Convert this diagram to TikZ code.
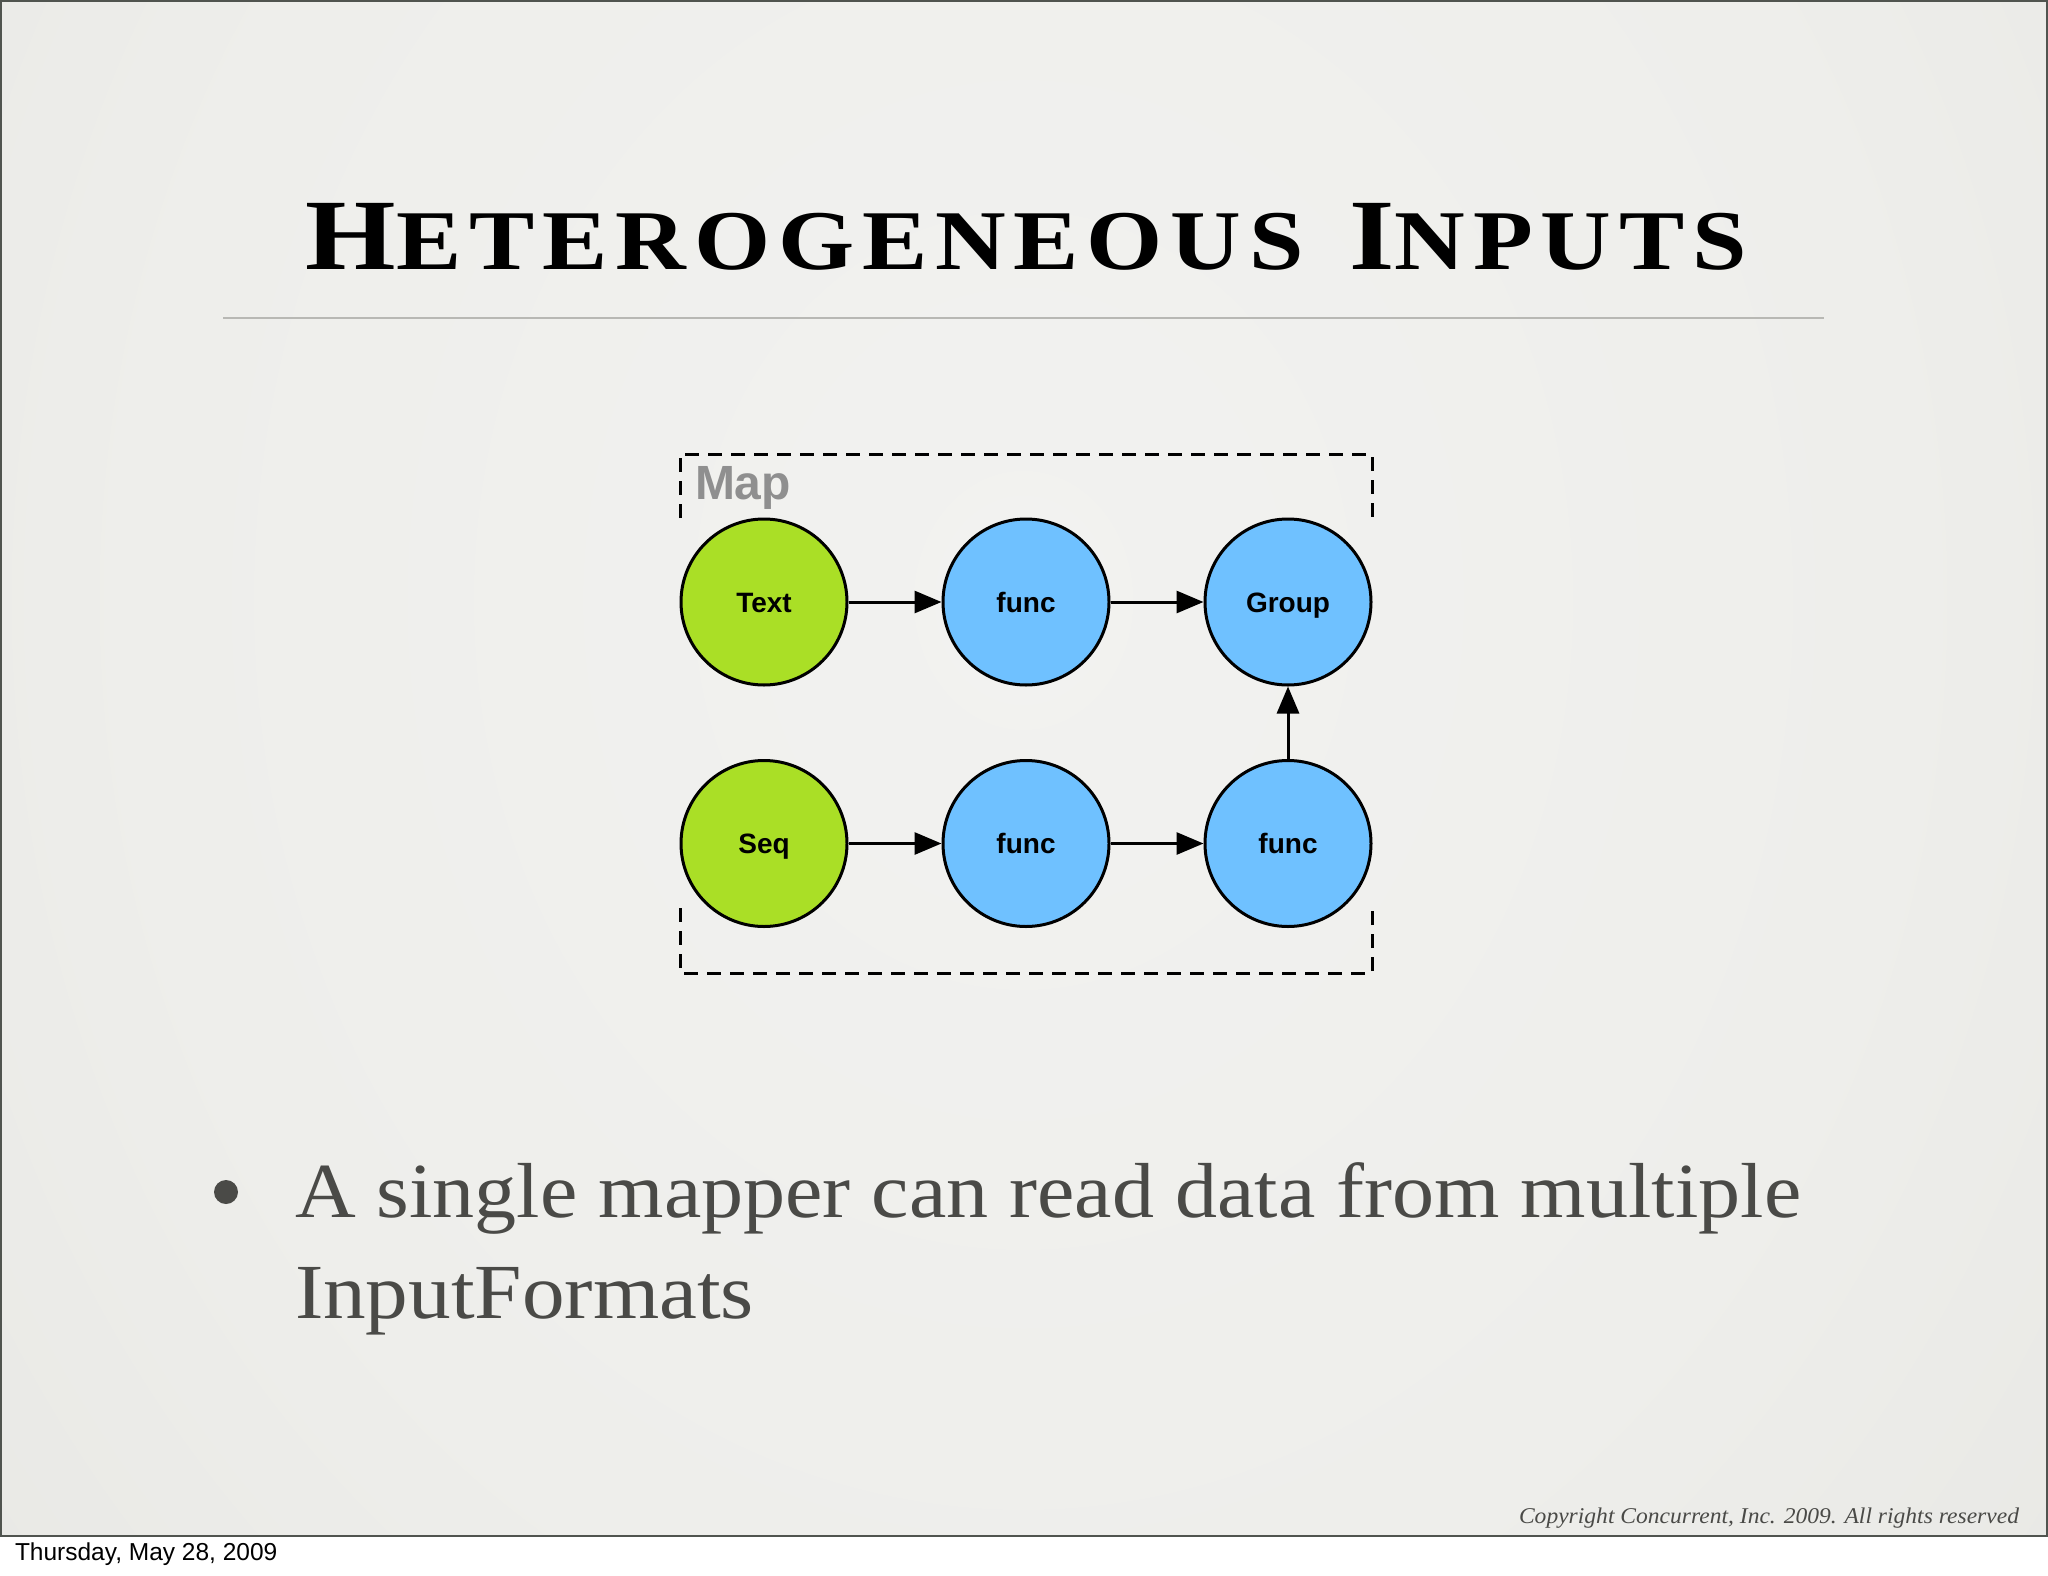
\documentclass[tikz,border=0pt]{standalone}
\usepackage{fontspec}
\usepackage{graphicx}
\setmainfont{Liberation Serif}
\setsansfont{Liberation Sans}
\usetikzlibrary{arrows.meta}
\definecolor{bgA}{HTML}{F2F2F0}
\definecolor{bgB}{HTML}{EEEEEB}
\definecolor{bgC}{HTML}{E4E4E0}
\definecolor{bgD}{HTML}{D5D6D0}
\definecolor{bgE}{HTML}{C6C8C0}
\definecolor{bgF}{HTML}{B8BAB1}
\definecolor{framegray}{HTML}{50544F}
\definecolor{rulegray}{HTML}{B8B8B4}
\definecolor{textgray}{HTML}{4A4A47}
\definecolor{mapgray}{HTML}{8F8F8F}
\definecolor{nodegreen}{HTML}{AADF26}
\definecolor{nodeblue}{HTML}{6FC1FF}
\pgfdeclareradialshading{slidebg}{\pgfpoint{0bp}{0bp}}{color(0bp)=(bgA); color(20bp)=(bgB); color(40bp)=(bgC); color(60bp)=(bgD); color(80bp)=(bgE); color(100bp)=(bgF)}
\newcommand{\ttlcap}[1]{{\fontsize{101}{101}\selectfont #1}}
\newcommand{\ttlsc}[1]{{\fontsize{85}{85}\selectfont #1}}
\begin{document}
\begin{tikzpicture}[x=1pt,y=-1pt,
  circnode/.style={circle, draw=black, line width=3pt, minimum size=166pt, inner sep=0pt,
    font=\sffamily\bfseries\fontsize{28}{28}\selectfont, text height=20pt, text depth=0pt},
  gnode/.style={circnode, fill=nodegreen},
  bnode/.style={circnode, fill=nodeblue},
  arr/.style={line width=3pt, -{Triangle[length=27pt,width=22pt]}},
  mapframe/.style={line width=3pt, dash pattern=on 14pt off 9pt},
  txt/.style={inner sep=0pt, outer sep=0pt}]
\useasboundingbox (0,0) rectangle (2048,1576);
\fill[white] (0,0) rectangle (2048,1576);
\begin{scope}
  \clip (1,1) rectangle (2047,1536);
  \shade[shading=slidebg] (-77,-700) rectangle (2123,1900);
\end{scope}
\draw[line width=2.5pt, framegray] (1,1) rectangle (2047,1536);

% title
\node[txt, anchor=base] (title) at (1026.5,269) {\resizebox{1441pt}{\height}{\addfontfeature{LetterSpace=8}\bfseries\ttlcap{H}\ttlsc{ETEROGENEOUS}\hspace{40pt}\ttlcap{I}\ttlsc{NPUTS}}};
\draw[line width=2.5pt, rulegray] (223,318) -- (1824,318);

% map frame
\draw[mapframe] (680,518) -- (680,454) -- (1372,454) -- (1372,518);
\draw[mapframe] (680,908) -- (680,973) -- (1372,973) -- (1372,908);
\node[txt, anchor=base west, mapgray, font=\sffamily\bfseries\fontsize{48}{48}\selectfont] (map) at (695,499) {Map};

% nodes
\node[gnode] (text) at (764,602) {Text};
\node[bnode] (f1) at (1026,602) {func};
\node[bnode] (group) at (1288,602) {Group};
\node[gnode] (seq) at (764,843.5) {Seq};
\node[bnode] (f2) at (1026,843.5) {func};
\node[bnode] (f3) at (1288,843.5) {func};

\draw[arr] (text) -- (f1);
\draw[arr] (f1) -- (group);
\draw[arr] (seq) -- (f2);
\draw[arr] (f2) -- (f3);
\draw[arr] (f3) -- (group);

% bullet
\node[circle, fill=textgray, minimum size=24pt, inner sep=0pt] (dot) at (226,1192) {};
\node[txt, anchor=base west, textgray] (l1) at (295,1217) {\resizebox{1506pt}{\height}{\fontsize{78}{78}\selectfont A single mapper can read data from multiple}};
\node[txt, anchor=base west, textgray] (l2) at (295,1318) {\resizebox{459pt}{\height}{\fontsize{78}{78}\selectfont InputFormats}};

% copyright
\node[txt, anchor=base east, textgray] (copy) at (2019,1523) {\resizebox{500pt}{\height}{\fontsize{22.5}{22.5}\selectfont\itshape Copyright Concurrent, Inc. 2009. All rights reserved}};

% date
\node[txt, anchor=base west] (date) at (15,1560) {\sffamily\fontsize{24.5}{24.5}\selectfont Thursday, May 28, 2009};
\end{tikzpicture}
\end{document}
